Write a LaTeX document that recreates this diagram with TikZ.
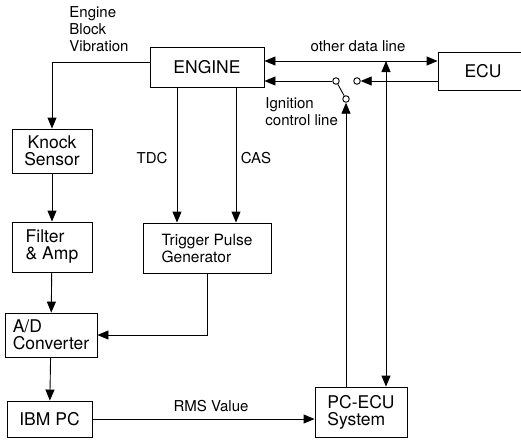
\documentclass[tikz,border=0pt]{standalone}
\usepackage{fontspec}
\setmainfont{TeX Gyre Heros}
\usetikzlibrary{arrows.meta,positioning,calc}

\begin{document}
\begin{tikzpicture}[x=1pt,y=-1pt,line width=0.9pt,
            >={Triangle[length=11pt,width=9pt]},
            block/.style 2 args={rectangle, draw, align=left, inner sep=1pt, minimum width=#1, minimum height=#2, font=\fontsize{17.5}{17}\selectfont},
            lbl/.style={align=left, inner sep=0pt, font=\fontsize{15}{17}\selectfont},
            contact/.style={circle, draw, fill=white, inner sep=0pt, minimum size=6.5pt}]
            \useasboundingbox (0,0) rectangle (521,440);

            % Blocks
            \node[block={114pt}{40pt}] (engine) at (207,67) {ENGINE};
            \node[block={90pt}{38pt}] (ecu) at (483,71) {ECU};
            \node[block={80pt}{44pt}, align=center] (knock) at (52,151) {Knock\\Sensor};
            \node[block={80pt}{50pt}] (filter) at (52,247) {Filter\\\& Amp};
            \node[block={128pt}{50pt}, font=\fontsize{15.5}{17}\selectfont] (trigger) at (207,248) {Trigger Pulse\\Generator};
            \node[block={92pt}{44pt}] (adc) at (51,335) {A/D\\Converter};
            \node[block={85pt}{36pt}] (ibm) at (49.5,419) {IBM PC};
            \node[block={92pt}{50pt}] (pcecu) at (361,412) {PC-ECU\\System};

            % Switch contacts
            \node[contact] (sw1) at (336,81) {};
            \node[contact] (sw2) at (357,81) {};
            \node[contact] (sw3) at (346,99) {};
            \coordinate (tap) at (386,61);

            % Labels
            \node[lbl, anchor=north west] (vib) at (69,6) {Engine\\Block\\Vibration};
            \node[lbl] (tdc) at (152,158) {TDC};
            \node[lbl] (cas) at (256,158) {CAS};
            \node[lbl] (data) at (358,46) {other data line};
            \node[lbl, anchor=north west] (ign) at (265,97) {Ignition\\control line};
            \node[lbl] (rms) at (211,406) {RMS Value};

            % Connections
            \draw[->] ([yshift=5pt]engine.west) -| (knock.north);
            \draw[->] (knock) -- (filter);
            \draw[->] (filter) -- (adc);
            \draw[->] (adc) -- (ibm);
            \draw[->] ([xshift=-30pt]engine.south) -- ([xshift=-30pt]trigger.north);
            \draw[->] ([xshift=29pt]engine.south) -- ([xshift=29pt]trigger.north);
            \draw[->] (trigger.south) |- (adc.east);
            \draw[->] (ibm.east) -- (ibm.east -| pcecu.west);

            \draw[<->] (engine.east |- tap) -- (ecu.west |- tap);
            \draw[<->] (tap |- pcecu.north) -- (tap);
            \draw[->] (sw1) -- (engine.east |- sw1);
            \draw[->] (ecu.west |- sw2) -- (sw2);
            \draw (sw1) -- (sw3);
            \draw[->] (sw3 |- pcecu.north) -- (sw3);
        \end{tikzpicture}
\end{document}
